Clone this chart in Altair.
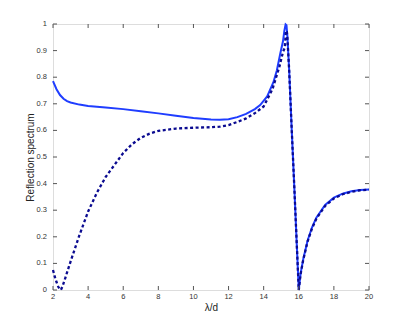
import altair as alt
import pandas as pd

# Solid curve (lambda/d, reflection)
solid_x = [2.0, 2.2, 2.4, 2.6, 2.8, 3.0, 3.5, 4.0, 5.0, 6.0, 7.0, 8.0, 9.0, 10.0, 11.0, 11.5,
           12.0, 12.5, 13.0, 13.5, 13.8, 14.2, 14.55, 14.75, 14.95, 15.1, 15.18, 15.25, 15.3,
           15.35, 15.45, 15.6, 15.75, 15.9, 16.0, 16.1, 16.25, 16.5, 16.75, 17.0, 17.5,
           18.0, 18.5, 19.0, 19.5, 20.0]
solid_y = [0.785, 0.755, 0.733, 0.719, 0.710, 0.705, 0.697, 0.692, 0.686, 0.680, 0.672, 0.664,
           0.655, 0.647, 0.641, 0.640, 0.642, 0.650, 0.662, 0.680, 0.695, 0.728, 0.780, 0.825,
           0.890, 0.935, 0.975, 0.998, 0.995, 0.955, 0.83, 0.60, 0.38, 0.15, 0.0, 0.06,
           0.115, 0.185, 0.235, 0.272, 0.320, 0.347, 0.362, 0.371, 0.376, 0.378]

# Dotted curve
dash_x = [2.0, 2.1, 2.2, 2.3, 2.4, 2.45, 2.55, 2.7, 3.0, 3.5, 4.0, 4.5, 5.0, 5.5, 6.0, 6.5,
          7.0, 7.5, 8.0, 9.0, 10.0, 11.0, 11.5, 12.0, 12.5, 13.0, 13.5, 14.0, 14.5, 14.9,
          15.1, 15.2, 15.27, 15.32, 15.35, 15.45, 15.6, 15.75, 15.9, 16.0, 16.1, 16.25,
          16.5, 16.75, 17.0, 17.5, 18.0, 18.5, 19.0, 19.5, 20.0]
dash_y = [0.075, 0.05, 0.03, 0.012, 0.002, 0.0, 0.015, 0.045, 0.107, 0.205, 0.295, 0.366,
          0.425, 0.470, 0.515, 0.548, 0.572, 0.588, 0.598, 0.607, 0.610, 0.612, 0.614,
          0.620, 0.632, 0.645, 0.665, 0.690, 0.755, 0.840, 0.895, 0.910, 0.975, 0.97,
          0.95, 0.83, 0.60, 0.38, 0.15, 0.0, 0.058, 0.112, 0.182, 0.231, 0.268, 0.316,
          0.344, 0.360, 0.369, 0.375, 0.377]

x_ticks = [2, 4, 6, 8, 10, 12, 14, 16, 18, 20]
x_tick_labels = ["2", "4", "6", "8", "10", "12", "14", "16", "18", "20"]
y_ticks = [0, 0.1, 0.2, 0.3, 0.4, 0.5, 0.6, 0.7, 0.8, 0.9, 1]
y_tick_labels = ["0", "0.1", "0.2", "0.3", "0.4", "0.5", "0.6", "0.7", "0.8", "0.9", "1"]

W, H = 316, 266
TL = 4
AX = "#555555"
LBL = "#333333"
FONT = "Liberation Sans"

df_s = pd.DataFrame({"x": solid_x, "y": solid_y})
df_d = pd.DataFrame({"x": dash_x, "y": dash_y})
df_xt = pd.DataFrame({"t": x_ticks, "lab": x_tick_labels})
df_yt = pd.DataFrame({"t": y_ticks, "lab": y_tick_labels})

xs = alt.Scale(domain=[2, 20], nice=False, zero=False)
ys = alt.Scale(domain=[0, 1], nice=False)

xaxis = alt.Axis(labels=False, ticks=False, domain=False, grid=False,
                 title="λ/d", titlePadding=12)
yaxis = alt.Axis(labels=False, ticks=False, domain=False, grid=False,
                 title="Reflection spectrum", titlePadding=18)

solid = alt.Chart(df_s).mark_line(color="#1f3dff", strokeWidth=2).encode(
    x=alt.X("x:Q", scale=xs, axis=xaxis),
    y=alt.Y("y:Q", scale=ys, axis=yaxis),
)
dotted = alt.Chart(df_d).mark_line(color="#0a0a90", strokeWidth=2.3, strokeDash=[3, 2.5]).encode(
    x=alt.X("x:Q", scale=xs),
    y=alt.Y("y:Q", scale=ys),
)

bt = alt.Chart(df_xt).mark_rule(color=AX, strokeWidth=1).encode(
    x=alt.X("t:Q", scale=xs), y=alt.value(H), y2=alt.value(H - TL))
tt = alt.Chart(df_xt).mark_rule(color=AX, strokeWidth=1).encode(
    x=alt.X("t:Q", scale=xs), y=alt.value(0), y2=alt.value(TL))
lt = alt.Chart(df_yt).mark_rule(color=AX, strokeWidth=1).encode(
    y=alt.Y("t:Q", scale=ys), x=alt.value(0), x2=alt.value(TL))
rt = alt.Chart(df_yt).mark_rule(color=AX, strokeWidth=1).encode(
    y=alt.Y("t:Q", scale=ys), x=alt.value(W), x2=alt.value(W - TL))

xl = alt.Chart(df_xt).mark_text(font=FONT, fontSize=7.5, color=LBL, align="center",
                                baseline="top", dy=3).encode(
    x=alt.X("t:Q", scale=xs), y=alt.value(H), text="lab:N")
yl = alt.Chart(df_yt).mark_text(font=FONT, fontSize=7.5, color=LBL, align="right",
                                baseline="middle", dx=-6).encode(
    y=alt.Y("t:Q", scale=ys), x=alt.value(0), text="lab:N")

chart = alt.layer(solid, dotted, bt, tt, lt, rt, xl, yl).properties(
    width=W, height=H,
    autosize=alt.AutoSizeParams(type="none"),
    padding={"left": 45, "top": 16, "right": 30, "bottom": 40},
).configure_view(stroke=AX, strokeWidth=1).configure(
    background="white"
).configure_axis(
    titleFont=FONT, titleFontSize=10, titleFontWeight="normal", titleColor="#222222",
)

chart.save("out.html", embed_options={"renderer": "svg", "actions": False})
